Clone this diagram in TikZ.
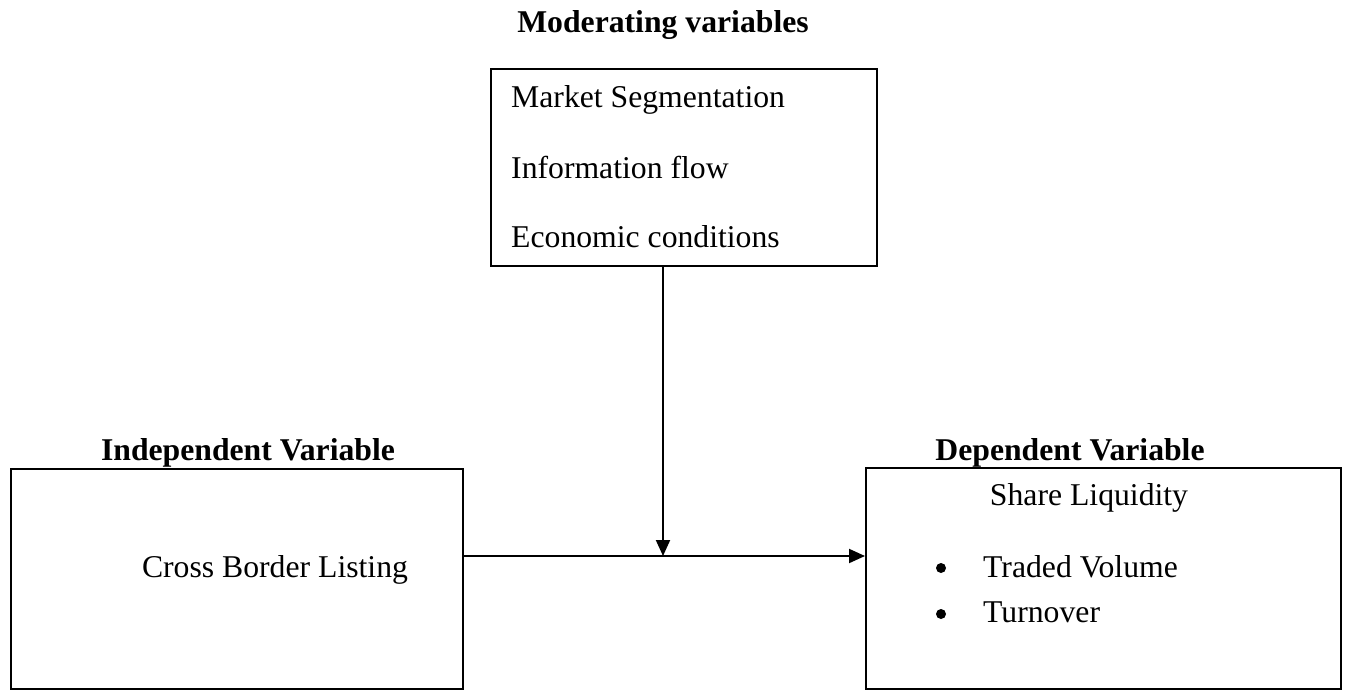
\documentclass[tikz,border=0pt]{standalone}
\usepackage{fontspec}
\setmainfont{Liberation Serif}
\usetikzlibrary{arrows.meta}
\tikzset{
  boxnode/.style={draw, line width=2pt, anchor=north west, inner sep=0pt},
  txt/.style={inner sep=0pt, font=\fontsize{31.7}{38}\selectfont},
  heading/.style={inner sep=0pt, anchor=base, font=\fontsize{31.7}{38}\selectfont\bfseries},
  bul/.style={circle, fill, inner sep=0pt, minimum size=10pt},
  conn/.style={line width=2pt, -{Triangle[length=16pt,width=14pt]}}
}
\begin{document}
\begin{tikzpicture}[x=1pt,y=-1pt]
\useasboundingbox (0,0) rectangle (1348,690);
% boxes
\node[boxnode, minimum width=386pt, minimum height=197pt] (mod) at (490,68) {};
\node[boxnode, minimum width=452pt, minimum height=220pt] (indep) at (10,468) {};
\node[boxnode, minimum width=475pt, minimum height=221pt] (dep) at (865,467) {};
% headings
\node[heading] (hmod) at (663,33) {Moderating variables};
\node[heading] (hind) at (248,460) {Independent Variable};
\node[heading] (hdep) at (1070,460) {Dependent Variable};
% moderating texts
\node[txt, anchor=base west] (m1) at (511,107) {Market Segmentation};
\node[txt, anchor=base west] (m2) at (511,178) {Information flow};
\node[txt, anchor=base west] (m3) at (511,247) {Economic conditions};
% independent text
\node[txt, anchor=base] (cbl) at (275,577) {Cross Border Listing};
% dependent texts
\node[txt, anchor=base] (sl) at (1089,505) {Share Liquidity};
\node[bul] (b1) at (941,568) {};
\node[txt, anchor=base west] (d1) at (983,577) {Traded Volume};
\node[bul] (b2) at (941,614) {};
\node[txt, anchor=base west] (d2) at (983,622) {Turnover};
% connectors
\coordinate (mid) at (663,556);
\draw[conn] (mod.south -| mid) -- (mid);
\draw[conn] (indep.east |- mid) -- (dep.west |- mid);
\end{tikzpicture}
\end{document}
